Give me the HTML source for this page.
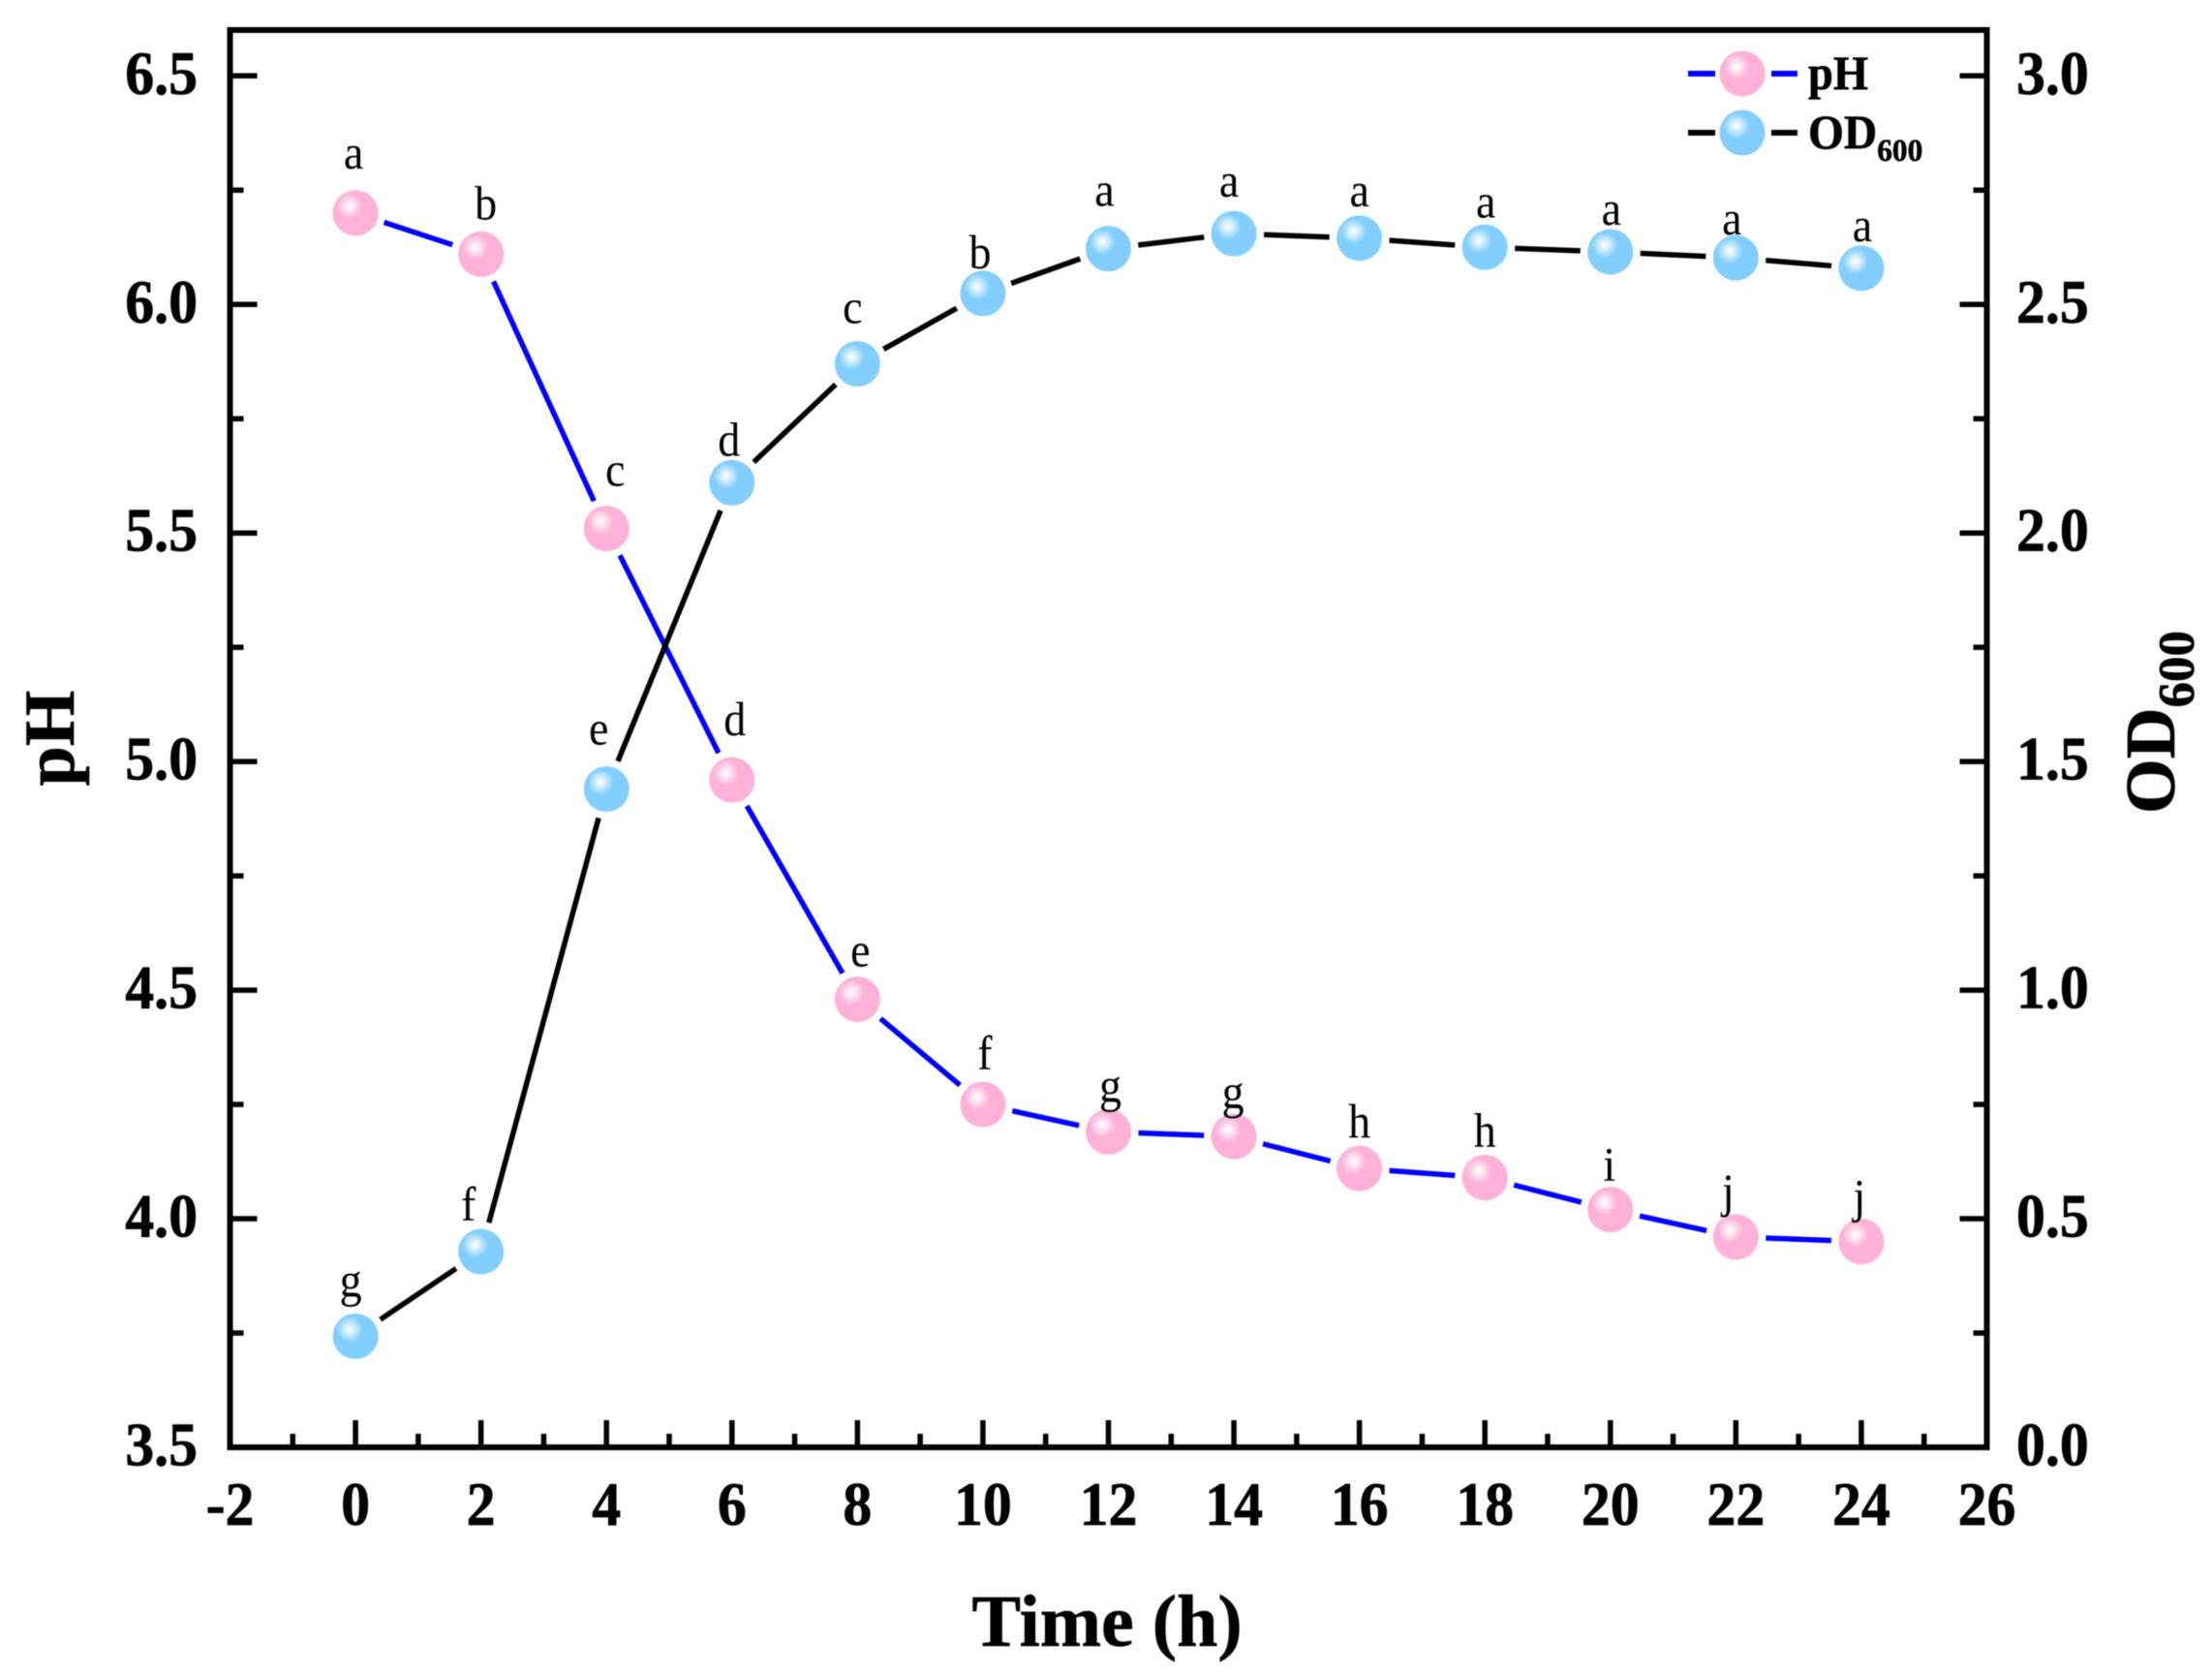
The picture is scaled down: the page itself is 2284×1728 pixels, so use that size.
<!DOCTYPE html>
<html lang="en">
<head>
<meta charset="utf-8">
<title>pH and OD600 over time</title>
<style>
html,body{margin:0;padding:0;background:#fff;}
svg{display:block;filter:blur(0.6px);}
text{font-family:"Liberation Serif",serif;fill:#000;}
.tick{font-weight:bold;font-size:63px;stroke:#000;stroke-width:0.7px;}
.letter{font-size:50px;}
.title{font-weight:bold;stroke:#000;stroke-width:0.6px;}
</style>
</head>
<body>
<svg id="chart" xmlns="http://www.w3.org/2000/svg" width="2284" height="1728" viewBox="0 0 2284 1728">
<defs>
<radialGradient id="ball-pink" cx="0.37" cy="0.35" r="0.28">
<stop offset="0" stop-color="#ffffff" stop-opacity="0.9"/>
<stop offset="0.55" stop-color="#ffd6ea"/>
<stop offset="1" stop-color="#ffb1d8"/>
</radialGradient>
<radialGradient id="ball-blue" cx="0.37" cy="0.35" r="0.28">
<stop offset="0" stop-color="#ffffff" stop-opacity="0.9"/>
<stop offset="0.55" stop-color="#bfe6ff"/>
<stop offset="1" stop-color="#82cfff"/>
</radialGradient>
</defs>
<g id="series-layer"></g>
<g id="axes-layer"></g>
<g>
<line x1="1743" y1="76" x2="1771" y2="76" stroke="#0000ff" stroke-width="6"/>
<line x1="1829" y1="76" x2="1856" y2="76" stroke="#0000ff" stroke-width="6"/>
<ellipse cx="1799" cy="76" rx="23.5" ry="23.5" fill="url(#ball-pink)"/>
<text class="title" font-size="50" transform="translate(1867 92) scale(0.93 1)">pH</text>
<line x1="1743" y1="137" x2="1771" y2="137" stroke="#000" stroke-width="6"/>
<line x1="1829" y1="137" x2="1856" y2="137" stroke="#000" stroke-width="6"/>
<ellipse cx="1799" cy="137" rx="23.5" ry="23.5" fill="url(#ball-blue)"/>
<text class="title" font-size="50" transform="translate(1867 153) scale(0.95 1)">OD<tspan font-size="33" dy="13">600</tspan></text>
</g>
<text class="title" x="1143" y="1699" font-size="76" text-anchor="middle">Time (h)</text>
<text class="title" font-size="74" text-anchor="middle" transform="translate(76 762) rotate(-90)">pH</text>
<text class="title" font-size="73" transform="translate(2245 840) rotate(-90)">OD<tspan font-size="53" dy="20">600</tspan></text>
</svg>
<script>
const timeHours = [0, 2, 4, 6, 8, 10, 12, 14, 16, 18, 20, 22, 24];
const phValues = [6.20, 6.11, 5.51, 4.96, 4.48, 4.25, 4.19, 4.18, 4.11, 4.09, 4.02, 3.96, 3.95];
const odValues = [0.243, 0.428, 1.44, 2.11, 2.37, 2.524, 2.622, 2.655, 2.645, 2.625, 2.615, 2.602, 2.579];
const phLetters = ['a', 'b', 'c', 'd', 'e', 'f', 'g', 'g', 'h', 'h', 'i', 'j', 'j'];
const odLetters = ['g', 'f', 'e', 'd', 'c', 'b', 'a', 'a', 'a', 'a', 'a', 'a', 'a'];
const xTickLabels = ['-2', '0', '2', '4', '6', '8', '10', '12', '14', '16', '18', '20', '22', '24', '26'];
const phTickLabels = ['3.5', '4.0', '4.5', '5.0', '5.5', '6.0', '6.5'];
const odTickLabels = ['0.0', '0.5', '1.0', '1.5', '2.0', '2.5', '3.0'];

const phLetterDx = [-2, 5, 9, 3, 3, 2, 2, -1, 0, 0, -1, -8, -2];
const phLetterDy = [-46, -36, -44, -46, -34, -36, -31, -29, -32, -32, -30, -31, -30];
const odLetterDx = [-5, -13, -8, -3, -5, -3, -4, -5, 0, 1, 1, -4, 1];
const odLetterDy = [-41, -32, -46, -28, -42, -26, -44, -38, -33, -31, -28, -24, -28];

const FRAME = {left: 237.5, right: 2051.5, top: 31, bottom: 1494, axisTop: 78.3};
const SVGNS = 'http://www.w3.org/2000/svg';
const BALL_R = 23.5;
const LINE_GAP = 31;

function xScale(v) { return FRAME.left + (v + 2) * (FRAME.right - FRAME.left) / 28; }
function phScale(v) { return FRAME.bottom - (v - 3.5) * (FRAME.bottom - FRAME.axisTop) / 3; }
function odScale(v) { return FRAME.bottom - v * (FRAME.bottom - FRAME.axisTop) / 3; }

function make(tag, attrs, parent) {
  const el = document.createElementNS(SVGNS, tag);
  for (const k in attrs) el.setAttribute(k, attrs[k]);
  parent.appendChild(el);
  return el;
}

const axes = document.getElementById('axes-layer');
const seriesLayer = document.getElementById('series-layer');

const frameRect = make('rect', {x: FRAME.left, y: FRAME.top, width: FRAME.right - FRAME.left, height: FRAME.bottom - FRAME.top, fill: 'none', stroke: '#000', 'stroke-width': 6}, axes);



function drawTick(x1, y1, x2, y2, name) {
  const t = make('line', {x1: x1, y1: y1, x2: x2, y2: y2, stroke: '#000', 'stroke-width': 5.5}, axes);
  
  
}
function drawTickLabel(x, y, anchor, str, name) {
  const t = make('text', {transform: 'translate(' + x + ' ' + y + ') scale(0.95 1)', 'text-anchor': anchor, class: 'tick'}, axes);
  t.textContent = str;
  
  
}

xTickLabels.forEach(function (lab) {
  const v = parseFloat(lab);
  const x = xScale(v);
  drawTick(x, FRAME.bottom, x, FRAME.bottom - 28, 'x-major-tick');
  drawTickLabel(x, 1574, 'middle', lab, 'x-tick-label');
  if (v < 26) {
    const m = xScale(v + 1);
    drawTick(m, FRAME.bottom, m, FRAME.bottom - 14, 'x-minor-tick');
  }
});
phTickLabels.forEach(function (lab) {
  const v = parseFloat(lab);
  const y = phScale(v);
  drawTick(FRAME.left, y, FRAME.left + 28, y, 'ph-major-tick');
  drawTickLabel(204, y + 18.5, 'end', lab, 'ph-tick-label');
  if (v < 6.5) {
    const m = phScale(v + 0.25);
    drawTick(FRAME.left, m, FRAME.left + 14, m, 'ph-minor-tick');
  }
});
odTickLabels.forEach(function (lab) {
  const v = parseFloat(lab);
  const y = odScale(v);
  drawTick(FRAME.right, y, FRAME.right - 28, y, 'od-major-tick');
  drawTickLabel(2082, y + 18.5, 'start', lab, 'od-tick-label');
  if (v < 3) {
    const m = odScale(v + 0.25);
    drawTick(FRAME.right, m, FRAME.right - 14, m, 'od-minor-tick');
  }
});

function drawLine(values, scale, color, name) {
  for (let i = 0; i < values.length - 1; i++) {
    const x1 = xScale(timeHours[i]), y1 = scale(values[i]);
    const x2 = xScale(timeHours[i + 1]), y2 = scale(values[i + 1]);
    const d = Math.hypot(x2 - x1, y2 - y1);
    const ux = (x2 - x1) / d, uy = (y2 - y1) / d;
    const seg = make('line', {x1: x1 + ux * LINE_GAP, y1: y1 + uy * LINE_GAP, x2: x2 - ux * LINE_GAP, y2: y2 - uy * LINE_GAP, stroke: color, 'stroke-width': 5.5}, seriesLayer);
    
    
  }
}
function drawMarkers(values, scale, fill, letters, dx, dy, markerName, letterName) {
  values.forEach(function (v, i) {
    const x = xScale(timeHours[i]), y = scale(v);
    const c = make('circle', {cx: x, cy: y, r: BALL_R, fill: fill}, seriesLayer);
    
    
    const t = make('text', {transform: 'translate(' + (x + dx[i]) + ' ' + (y + dy[i]) + ') scale(0.92 1)', 'text-anchor': 'middle', class: 'letter'}, seriesLayer);
    t.textContent = letters[i];
    
    
  });
}
drawLine(phValues, phScale, '#0000ff', 'ph-line-segment');
drawLine(odValues, odScale, '#000000', 'od600-line-segment');
drawMarkers(phValues, phScale, 'url(#ball-pink)', phLetters, phLetterDx, phLetterDy, 'ph-point', 'ph-significance-letter');
drawMarkers(odValues, odScale, 'url(#ball-blue)', odLetters, odLetterDx, odLetterDy, 'od600-point', 'od600-significance-letter');
</script>
</body>
</html>
